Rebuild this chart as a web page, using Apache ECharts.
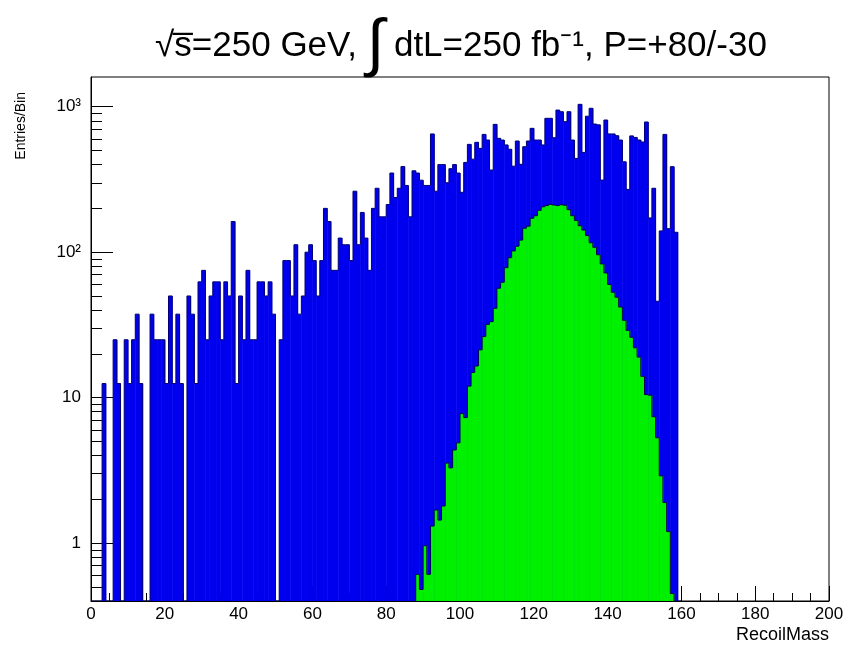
<!DOCTYPE html>
<html>
<head>
<meta charset="utf-8">
<title>RecoilMass</title>
<script src="https://cdn.jsdelivr.net/npm/echarts@6.0.0/dist/echarts.min.js"></script>
<style>
  html, body { margin: 0; padding: 0; background: #fff; }
  #main { width: 849px; height: 646px; }
</style>
</head>
<body>
<div id="main"></div>
<script>
// histogram bins, 1 GeV wide
var binWidth = 1;

// all events (blue), bins from 0 GeV
var allStart = 0;
var allCounts = [
  0, 0, 0, 12.5, 0, 0, 25, 12.5, 0, 25,
  12.5, 25, 37.5, 12.5, 0, 0, 37.5, 25, 25, 25,
  12.5, 50, 12.5, 37.5, 12.5, 0, 50, 37.5, 12.5, 62.5,
  75, 25, 50, 62.5, 62.5, 25, 62.5, 50, 162.5, 12.5,
  50, 25, 75, 25, 25, 62.5, 62.5, 50, 62.5, 37.5,
  0, 25, 87.5, 87.5, 50, 112.5, 37.5, 50, 100, 112.5,
  87.5, 50, 87.5, 200, 162.5, 75, 75, 125, 112.5, 112.5,
  87.5, 262.5, 112.5, 187.5, 125, 75, 200, 275, 175, 175,
  212.5, 350, 237.5, 275, 387.5, 287.5, 175, 362.5, 350, 312.5,
  287.5, 287.5, 650, 262.5, 400, 400, 300, 375, 400, 350,
  258, 414, 551, 436, 569, 517, 645, 590, 367, 756,
  606, 590, 546, 510, 390, 581, 402, 531, 581, 710,
  590, 590, 546, 832, 832, 612, 948, 924, 789, 924,
  590, 441, 1038, 485, 860, 975, 760, 750, 313, 810,
  650, 650, 632, 590, 418, 270, 630, 615, 590, 572,
  785, 172, 275, 46, 140, 645, 145, 387, 137
];

// signal (green), bins from 88 GeV
var higgsStart = 88;
var higgsCounts = [
  0.61, 0.48, 0.96, 0.61, 1.31, 1.69, 1.44, 1.8, 3.55, 3.29,
  4.37, 4.89, 7.77, 7.29, 12, 14.9, 16.5, 21.3, 26.3, 31.9,
  33.3, 41.1, 56.5, 62.1, 78.2, 91.6, 102, 110, 121, 146,
  151, 171, 178, 194, 205, 209, 213, 211, 209, 212,
  210, 196, 178, 165, 152, 142, 130, 116, 108, 96,
  83, 72, 60, 53, 49, 42, 34, 29, 26, 22,
  19, 14, 10.5, 10.4, 7.4, 5.3, 2.9, 1.9, 1.2, 0.45
];

var yTickValues = [1, 10, 100, 1000];
var yTickLabels = ['1', '10', '10²', '10³'];
var yMin = 0.4, yMax = 1600;

var font = 'Liberation Sans, Arial, Helvetica, sans-serif';

// log10 positions for the tick axes
var majorPos = yTickValues.map(function (v) { return Math.log10(v); });
var minorPos = [];
for (var d = 0.1; d < 2000; d *= 10) {
  for (var k = 2; k <= 9; k++) {
    var t = k * d;
    if (t > yMin && t < yMax) minorPos.push(Math.log10(t));
  }
}

function histTable(start, counts) {
  var rows = [];
  for (var i = 0; i <= counts.length; i++) {
    var lo = start + i * binWidth;
    rows.push([lo, lo + binWidth, i < counts.length ? counts[i] : 0, i > 0 ? counts[i - 1] : 0]);
  }
  return rows;
}

function histRender(fill, edge) {
  return function (params, api) {
    var lo = api.value(0), hi = api.value(1), v = api.value(2), prev = api.value(3);
    var p0 = api.coord([lo, yMin]);
    var p1 = api.coord([hi, yMin]);
    var base = p0[1];
    var top = v > 0 ? api.coord([lo, v])[1] : base;
    var prevTop = prev > 0 ? api.coord([lo, prev])[1] : base;
    var children = [];
    if (v > 0) {
      children.push({
        type: 'rect',
        shape: { x: p0[0], y: top, width: p1[0] - p0[0] + 0.5, height: base - top },
        style: { fill: fill }
      });
    }
    children.push({
      type: 'polyline',
      shape: { points: [[p0[0], prevTop], [p0[0], top], [p1[0], top]] },
      style: { stroke: edge, lineWidth: 1, fill: null }
    });
    return { type: 'group', children: children };
  };
}

var myChart = echarts.init(document.getElementById('main'));

var option = {
  animation: false,
  backgroundColor: '#fff',
  grid: {
    left: 91, right: 20, top: 77, bottom: 45,
    show: true, borderColor: '#000', borderWidth: 1,
    outerBoundsMode: 'none'
  },
  xAxis: {
    type: 'value',
    min: 0, max: 200, interval: 20,
    axisLine: { onZero: false, lineStyle: { color: '#000', width: 1 } },
    axisTick: { inside: true, length: 15, lineStyle: { color: '#000' } },
    minorTick: { show: true, splitNumber: 4, length: 8, lineStyle: { color: '#000' } },
    splitLine: { show: false },
    axisLabel: { color: '#000', fontSize: 17, fontFamily: font, margin: 5 }
  },
  yAxis: [
    { type: 'log', logBase: 10, min: yMin, max: yMax, show: false },
    {
      type: 'value', min: Math.log10(yMin), max: Math.log10(yMax), position: 'left',
      axisLine: { show: true, onZero: false, lineStyle: { color: '#000', width: 1 } },
      axisTick: { inside: true, length: 22, customValues: majorPos, lineStyle: { color: '#000' } },
      axisLabel: {
        customValues: majorPos, color: '#000', fontSize: 17, fontFamily: font, margin: 10,
        formatter: function (val) { return yTickLabels[Math.round(val)]; }
      },
      splitLine: { show: false }
    },
    {
      type: 'value', min: Math.log10(yMin), max: Math.log10(yMax), position: 'left',
      axisLine: { show: false, onZero: false },
      axisTick: { inside: true, length: 11, customValues: minorPos, lineStyle: { color: '#000' } },
      axisLabel: { show: false },
      splitLine: { show: false }
    }
  ],
  series: [
    {
      name: 'all', type: 'custom', yAxisIndex: 0,
      renderItem: histRender('#0000ee', '#000070'),
      encode: { x: [0, 1], y: 2 },
      data: histTable(allStart, allCounts),
      clip: true, silent: true
    },
    {
      name: 'signal', type: 'custom', yAxisIndex: 0,
      renderItem: histRender('#00f000', '#000050'),
      encode: { x: [0, 1], y: 2 },
      data: histTable(higgsStart, higgsCounts),
      clip: true, silent: true
    }
  ],
  graphic: [
    {
      type: 'text', x: 461, y: 46,
      style: {
        text: '{t|√s\u0305=250 GeV, }{i|∫}{t| dtL=250 fb⁻¹, P=+80/-30}',
        align: 'center', verticalAlign: 'middle',
        rich: {
          t: { fontSize: 35, fontFamily: font, fill: '#000' },
          i: { fontSize: 64, fontFamily: font, fill: '#000' }
        }
      }
    },
    {
      type: 'text', x: 21, y: 92, rotation: Math.PI / 2,
      style: { text: 'Entries/Bin', fontSize: 14, fontFamily: font, fill: '#000', align: 'right', verticalAlign: 'middle' }
    },
    {
      type: 'text', x: 829, y: 635,
      style: { text: 'RecoilMass', fontSize: 18, fontFamily: font, fill: '#000', align: 'right', verticalAlign: 'middle' }
    }
  ]
};

myChart.setOption(option);
</script>
</body>
</html>
